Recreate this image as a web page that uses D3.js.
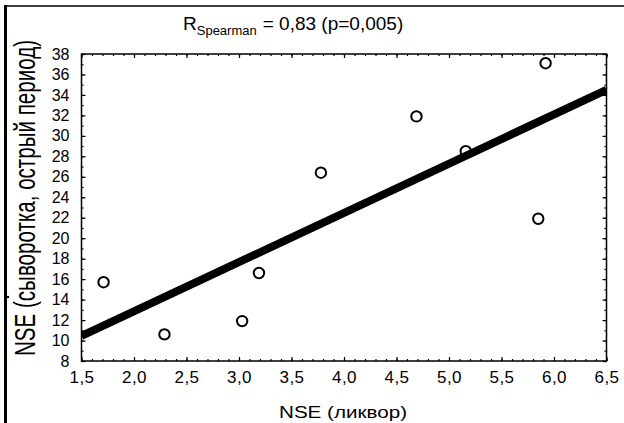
<!DOCTYPE html>
<html><head><meta charset="utf-8">
<script src="https://cdn.jsdelivr.net/npm/d3@7/dist/d3.min.js"></script>
<style>body{margin:0;background:#fff}svg{display:block}text{font-family:Arial,"Liberation Sans",sans-serif;fill:#000}</style>
</head><body>
<script>
const xValues = [1.71, 2.29, 3.03, 3.19, 3.78, 4.69, 5.16, 5.85, 5.92];
const yValues = [15.7, 10.6, 11.9, 16.6, 26.4, 31.9, 28.5, 21.9, 37.1];
const fitX = [1.5, 6.5];
const fitY = [10.45, 34.5];
const xMajorTicks = [1.5, 2.0, 2.5, 3.0, 3.5, 4.0, 4.5, 5.0, 5.5, 6.0, 6.5];
const yMajorTicks = [8, 10, 12, 14, 16, 18, 20, 22, 24, 26, 28, 30, 32, 34, 36, 38];
const titleMain = "R";
const titleSub = "Spearman";
const titleRest = "= 0,83 (p=0,005)";
const xLabel = "NSE (ликвор)";
const yLabel = "NSE (сыворотка, острый период)";

const W = 624, H = 423;
const L = 81.5, R = 606.5, T = 54, B = 361;
const svg = d3.select("body").append("svg").attr("width", W).attr("height", H);

const x = d3.scaleLinear().domain([1.5, 6.5]).range([L, R]);
const y = d3.scaleLinear().domain([8, 38]).range([B, T]);

const xMinor = d3.range(15, 66).map(v => v / 10);
const yMinor = d3.range(8, 39);
const fmt = v => d3.format(".1f")(v).replace(".", ",");

// outer frame lines
svg.append("line").attr("x1", 5.5).attr("x2", 5.5).attr("y1", 5).attr("y2", H).attr("stroke", "#000").attr("stroke-width", 3);
svg.append("line").attr("x1", 4).attr("x2", W).attr("y1", 6).attr("y2", 6).attr("stroke", "#000").attr("stroke-width", 1.5);
svg.append("circle").attr("cx", 8).attr("cy", 297).attr("r", 1.2).attr("fill", "#000");

function axis(gen, tr, ticks, size, labels) {
  const g = svg.append("g").attr("transform", tr)
    .call(gen.tickValues(ticks).tickSize(size).tickSizeOuter(0).tickFormat(labels || (() => "")));
  g.select(".domain").remove();
  g.selectAll(".tick line").attr("stroke", "#000").attr("stroke-width", 1.2);
  return g;
}
// minor ticks (inward)
axis(d3.axisBottom(x), `translate(0,${B})`, xMinor, -2);
axis(d3.axisTop(x), `translate(0,${T})`, xMinor, -2);
axis(d3.axisLeft(y), `translate(${L},0)`, yMinor, -2);
axis(d3.axisRight(y), `translate(${R},0)`, yMinor, -2);
// major ticks
const gxb = axis(d3.axisBottom(x), `translate(0,${B})`, xMajorTicks, -4, fmt);
gxb.selectAll("text").attr("y", 10).attr("dy", "0.71em").style("font-size", "17px").style("letter-spacing", "0.5px")
  .style("font-family", "Arial, 'Liberation Sans', sans-serif").attr("fill", "#000");
axis(d3.axisTop(x), `translate(0,${T})`, xMajorTicks, -4);
const gyl = axis(d3.axisLeft(y), `translate(${L},0)`, yMajorTicks, -4, d3.format("d"));
gyl.selectAll("text").attr("x", -12).style("font-size", "16px")
  .style("font-family", "Arial, 'Liberation Sans', sans-serif").attr("fill", "#000");
axis(d3.axisRight(y), `translate(${R},0)`, yMajorTicks, -4);

// plot frame
svg.append("rect").attr("x", L).attr("y", T).attr("width", R - L).attr("height", B - T)
  .attr("fill", "none").attr("stroke", "#000").attr("stroke-width", 1.5);

svg.append("clipPath").attr("id", "clip").append("rect").attr("x", L).attr("y", T).attr("width", R - L).attr("height", B - T);

// points
svg.append("g").selectAll("circle").data(xValues.map((v, i) => [v, yValues[i]])).join("circle")
  .attr("cx", d => x(d[0])).attr("cy", d => y(d[1])).attr("r", 5.2)
  .attr("fill", "#fff").attr("stroke", "#000").attr("stroke-width", 2);

// fit line
svg.append("line").attr("clip-path", "url(#clip)")
  .attr("x1", x(fitX[0])).attr("y1", y(fitY[0])).attr("x2", x(fitX[1])).attr("y2", y(fitY[1]))
  .attr("stroke", "#000").attr("stroke-width", 8);

// title
const t = svg.append("text").attr("x", 183).attr("y", 30).style("font-size", "19px");
t.append("tspan").text(titleMain);
t.append("tspan").attr("dy", 5).style("font-size", "13px").text(titleSub);
t.append("tspan").attr("dy", -5).attr("dx", 6).text(titleRest);

// axis labels
svg.append("text").attr("x", 343).attr("y", 418).attr("text-anchor", "middle").style("font-size", "16px")
  .attr("textLength", 128).attr("lengthAdjust", "spacingAndGlyphs").text(xLabel);
svg.append("text").attr("transform", "translate(35,356) rotate(-90)")
  .attr("textLength", 316).attr("lengthAdjust", "spacingAndGlyphs")
  .style("font-size", "30px").text(yLabel);
</script>
</body></html>
